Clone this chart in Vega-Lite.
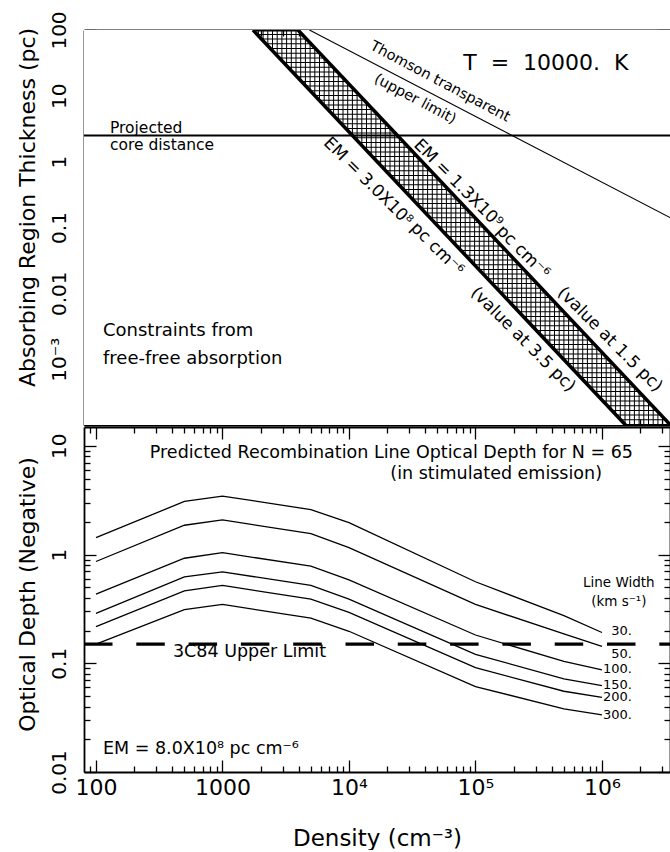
{
  "$schema": "https://vega.github.io/schema/vega-lite/v6.json",
  "background": "white",
  "padding": {"left": 15, "top": 10, "right": 0, "bottom": 0},
  "spacing": 0,
  "config": {
    "font": "DejaVu Sans",
    "view": {"stroke": null},
    "axis": {
      "domainColor": "black", "domainWidth": 1.8, "tickColor": "black", "tickWidth": 1.3,
      "labelColor": "black", "titleColor": "black", "labelFont": "DejaVu Sans", "titleFont": "DejaVu Sans",
      "titleFontWeight": "normal", "grid": false, "zindex": 1, "labelOverlap": false, "labelFlush": false
    },
    "text": {"font": "DejaVu Sans", "color": "black"}
  },
  "datasets": {
    "band": [
      {"edge": "lo", "n": 1742, "L": 100}, {"edge": "lo", "n": 1535000, "L": 0.0001},
      {"edge": "hi", "n": 3954, "L": 100}, {"edge": "hi", "n": 3480000, "L": 0.0001}
    ],
    "mask": [
      {"m": "lo", "n": 80.4, "L": 100, "L2": 0.0001}, {"m": "lo", "n": 1742, "L": 100, "L2": 0.0001}, {"m": "lo", "n": 1535000, "L": 0.0001, "L2": 0.0001},
      {"m": "hi", "n": 3954, "L": 100, "L2": 100}, {"m": "hi", "n": 3450000, "L": 0.0001018, "L2": 100}
    ],
    "thomson": [{"n": 4870, "L": 100}, {"n": 3450000, "L": 0.1412}],
    "topText": [
      {"g": "T", "txt": "T\u00a0\u00a0=\u00a0\u00a010000.\u00a0\u00a0K", "n": 360000, "L": 31.3},
      {"g": "proj", "txt": "Projected", "n": 129, "L": 3.3},
      {"g": "proj", "txt": "core distance", "n": 129, "L": 1.817},
      {"g": "con", "txt": "Constraints from", "n": 113.6, "L": 0.00272},
      {"g": "con", "txt": "free-free absorption", "n": 113.6, "L": 0.00102},
      {"g": "thom", "txt": "Thomson transparent", "n": 52400, "L": 16.3},
      {"g": "thom", "txt": "(upper limit)", "n": 33300, "L": 8.85},
      {"g": "em", "txt": "EM = 1.3X10⁹", "n": 72800, "L": 0.461},
      {"g": "em", "txt": "pc cm⁻⁶", "n": 237500, "L": 0.0423},
      {"g": "em", "txt": "(value at 1.5 pc)", "n": 1156000, "L": 0.00199},
      {"g": "em", "txt": "EM = 3.0X10⁸", "n": 14130, "L": 0.495},
      {"g": "em", "txt": "pc cm⁻⁶", "n": 49700, "L": 0.047},
      {"g": "em", "txt": "(value at 3.5 pc)", "n": 237500, "L": 0.00199}
    ],
    "tau": [
      {"w": "30", "n": 100, "tau": 1.43}, {"w": "30", "n": 500, "tau": 3.08}, {"w": "30", "n": 1000, "tau": 3.45}, {"w": "30", "n": 5000, "tau": 2.59},
      {"w": "30", "n": 10000, "tau": 1.97}, {"w": "30", "n": 100000, "tau": 0.562}, {"w": "30", "n": 500000, "tau": 0.274}, {"w": "30", "n": 1000000, "tau": 0.192},
      {"w": "50", "n": 100, "tau": 0.863}, {"w": "50", "n": 500, "tau": 1.86}, {"w": "50", "n": 1000, "tau": 2.08}, {"w": "50", "n": 5000, "tau": 1.56},
      {"w": "50", "n": 10000, "tau": 1.16}, {"w": "50", "n": 100000, "tau": 0.348}, {"w": "50", "n": 500000, "tau": 0.186}, {"w": "50", "n": 1000000, "tau": 0.143},
      {"w": "100", "n": 100, "tau": 0.432}, {"w": "100", "n": 500, "tau": 0.925}, {"w": "100", "n": 1000, "tau": 1.04}, {"w": "100", "n": 5000, "tau": 0.781},
      {"w": "100", "n": 10000, "tau": 0.586}, {"w": "100", "n": 100000, "tau": 0.182}, {"w": "100", "n": 500000, "tau": 0.104}, {"w": "100", "n": 1000000, "tau": 0.0868},
      {"w": "150", "n": 100, "tau": 0.288}, {"w": "150", "n": 500, "tau": 0.624}, {"w": "150", "n": 1000, "tau": 0.694}, {"w": "150", "n": 5000, "tau": 0.52},
      {"w": "150", "n": 10000, "tau": 0.389}, {"w": "150", "n": 100000, "tau": 0.121}, {"w": "150", "n": 500000, "tau": 0.0718}, {"w": "150", "n": 1000000, "tau": 0.0624},
      {"w": "200", "n": 100, "tau": 0.217}, {"w": "200", "n": 500, "tau": 0.464}, {"w": "200", "n": 1000, "tau": 0.52}, {"w": "200", "n": 5000, "tau": 0.389},
      {"w": "200", "n": 10000, "tau": 0.294}, {"w": "200", "n": 100000, "tau": 0.0912}, {"w": "200", "n": 500000, "tau": 0.0553}, {"w": "200", "n": 1000000, "tau": 0.0485},
      {"w": "300", "n": 100, "tau": 0.15}, {"w": "300", "n": 500, "tau": 0.311}, {"w": "300", "n": 1000, "tau": 0.348}, {"w": "300", "n": 5000, "tau": 0.26},
      {"w": "300", "n": 10000, "tau": 0.197}, {"w": "300", "n": 100000, "tau": 0.0611}, {"w": "300", "n": 500000, "tau": 0.0381}, {"w": "300", "n": 1000000, "tau": 0.0336}
    ],
    "botText": [
      {"g": "title", "txt": "Predicted Recombination Line Optical Depth for N = 65", "n": 1758000, "tau": 8.63},
      {"g": "title", "txt": "(in stimulated emission)", "n": 1000000, "tau": 5.53},
      {"g": "left", "txt": "3C84 Upper Limit", "n": 406, "tau": 0.126},
      {"g": "left", "txt": "EM = 8.0X10⁸ pc cm⁻⁶", "n": 113.6, "tau": 0.01626},
      {"g": "lw", "txt": "Line Width", "n": 1360000, "tau": 0.542},
      {"g": "lw", "txt": "(km s⁻¹)", "n": 1360000, "tau": 0.363},
      {"g": "num", "txt": "30.", "n": 1726000, "tau": 0.197},
      {"g": "num", "txt": "50.", "n": 1726000, "tau": 0.121},
      {"g": "num", "txt": "100.", "n": 1726000, "tau": 0.0881},
      {"g": "num", "txt": "150.", "n": 1726000, "tau": 0.0629},
      {"g": "num", "txt": "200.", "n": 1726000, "tau": 0.0488},
      {"g": "num", "txt": "300.", "n": 1726000, "tau": 0.0333}
    ]
  },
  "vconcat": [
    {
      "width": 586,
      "height": 395,
      "resolve": {"axis": {"x": "independent", "y": "independent"}},
      "layer": [
        {
          "data": {"values": [{}]},
          "mark": {"type": "rule", "color": "black", "strokeWidth": 418, "strokeDash": [1, 3.7], "clip": true},
          "encoding": {
            "x": {"datum": 76700, "type": "quantitative", "scale": {"type": "log", "domain": [80.4, 3450000], "nice": false}, "axis": null},
            "y": {"datum": 0.0001, "type": "quantitative", "scale": {"type": "log", "domain": [0.0001, 100], "nice": false}, "axis": null},
            "y2": {"datum": 100}
          }
        },
        {
          "data": {"values": [{}]},
          "mark": {"type": "rule", "color": "black", "strokeWidth": 395, "strokeDash": [1, 3.7], "clip": true},
          "encoding": {
            "x": {"datum": 80.4, "type": "quantitative", "scale": {"type": "log", "domain": [80.4, 3450000], "nice": false}, "axis": null},
            "x2": {"datum": 3450000},
            "y": {"datum": 0.1, "type": "quantitative", "scale": {"type": "log", "domain": [0.0001, 100], "nice": false}, "axis": null}
          }
        },
        {
          "data": {"name": "mask"},
          "mark": {"type": "area", "fill": "white", "clip": true},
          "encoding": {
            "x": {"field": "n", "type": "quantitative", "scale": {"type": "log", "domain": [80.4, 3450000], "nice": false}, "axis": null},
            "y": {"field": "L", "type": "quantitative", "scale": {"type": "log", "domain": [0.0001, 100], "nice": false}, "axis": null},
            "y2": {"field": "L2"},
            "detail": {"field": "m"}
          }
        },
        {
          "data": {"name": "band"},
          "mark": {"type": "line", "color": "black", "strokeWidth": 3.5, "clip": true},
          "encoding": {
            "x": {"field": "n", "type": "quantitative", "scale": {"type": "log", "domain": [80.4, 3450000], "nice": false},
              "axis": {"orient": "bottom", "values": [90,100,200,300,400,500,600,700,800,900,1000,2000,3000,4000,5000,6000,7000,8000,9000,10000,20000,30000,40000,50000,60000,70000,80000,90000,100000,200000,300000,400000,500000,600000,700000,800000,900000,1000000,2000000,3000000],
                "labels": false, "title": null,
                "tickSize": {"condition": {"test": "abs(log(datum.value)/LN10 - round(log(datum.value)/LN10)) < 0.001", "value": -12}, "value": -6}}},
            "y": {"field": "L", "type": "quantitative", "scale": {"type": "log", "domain": [0.0001, 100], "nice": false},
              "axis": {"orient": "left",
                "values": [0.0001,0.0002,0.0003,0.0004,0.0005,0.0006,0.0007,0.0008,0.0009,0.001,0.002,0.003,0.004,0.005,0.006,0.007,0.008,0.009,0.01,0.02,0.03,0.04,0.05,0.06,0.07,0.08,0.09,0.1,0.2,0.3,0.4,0.5,0.6,0.7,0.8,0.9,1,2,3,4,5,6,7,8,9,10,20,30,40,50,60,70,80,90,100],
                "labelExpr": "datum.value == 100 ? '100' : datum.value == 10 ? '10' : datum.value == 1 ? '1' : datum.value == 0.1 ? '0.1' : datum.value == 0.01 ? '0.01' : datum.value == 0.001 ? '10⁻³' : ''",
                "labelAngle": -90, "labelAlign": "center", "labelBaseline": "bottom", "labelFontSize": 20, "labelPadding": 27,
                "title": "Absorbing Region Thickness (pc)", "titleFontSize": 22, "titleAngle": -90, "titleX": -57, "titleY": 177,
                "titleAlign": "center", "titleBaseline": "middle",
                "tickSize": {"condition": {"test": "abs(log(datum.value)/LN10 - round(log(datum.value)/LN10)) < 0.001", "value": -12}, "value": -6}}},
            "detail": {"field": "edge"}
          }
        },
        {
          "data": {"name": "thomson"},
          "mark": {"type": "line", "color": "black", "strokeWidth": 1.1, "clip": true},
          "encoding": {
            "x": {"field": "n", "type": "quantitative", "scale": {"type": "log", "domain": [80.4, 3450000], "nice": false},
              "axis": {"orient": "top", "values": [90,100,200,300,400,500,600,700,800,900,1000,2000,3000,4000,5000,6000,7000,8000,9000,10000,20000,30000,40000,50000,60000,70000,80000,90000,100000,200000,300000,400000,500000,600000,700000,800000,900000,1000000,2000000,3000000],
                "labels": false, "title": null,
                "tickSize": {"condition": {"test": "abs(log(datum.value)/LN10 - round(log(datum.value)/LN10)) < 0.001", "value": -12}, "value": -6}}},
            "y": {"field": "L", "type": "quantitative", "scale": {"type": "log", "domain": [0.0001, 100], "nice": false},
              "axis": {"orient": "right",
                "values": [0.0001,0.0002,0.0003,0.0004,0.0005,0.0006,0.0007,0.0008,0.0009,0.001,0.002,0.003,0.004,0.005,0.006,0.007,0.008,0.009,0.01,0.02,0.03,0.04,0.05,0.06,0.07,0.08,0.09,0.1,0.2,0.3,0.4,0.5,0.6,0.7,0.8,0.9,1,2,3,4,5,6,7,8,9,10,20,30,40,50,60,70,80,90,100],
                "labels": false, "title": null,
                "tickSize": {"condition": {"test": "abs(log(datum.value)/LN10 - round(log(datum.value)/LN10)) < 0.001", "value": -12}, "value": -6}}}
          }
        },
        {
          "data": {"values": [{}]},
          "mark": {"type": "rule", "color": "black", "strokeWidth": 2},
          "encoding": {
            "y": {"datum": 2.5, "type": "quantitative", "scale": {"type": "log", "domain": [0.0001, 100], "nice": false}, "axis": null}
          }
        },
        {
          "data": {"name": "topText"},
          "transform": [{"filter": "datum.g == 'T'"}],
          "mark": {"type": "text", "fontSize": 22, "align": "center", "baseline": "middle"},
          "encoding": {
            "x": {"field": "n", "type": "quantitative", "scale": {"type": "log", "domain": [80.4, 3450000], "nice": false}, "axis": null},
            "y": {"field": "L", "type": "quantitative", "scale": {"type": "log", "domain": [0.0001, 100], "nice": false}, "axis": null},
            "text": {"field": "txt"}
          }
        },
        {
          "data": {"name": "topText"},
          "transform": [{"filter": "datum.g == 'proj'"}],
          "mark": {"type": "text", "fontSize": 15.5, "align": "left", "baseline": "middle"},
          "encoding": {
            "x": {"field": "n", "type": "quantitative", "scale": {"type": "log", "domain": [80.4, 3450000], "nice": false}, "axis": null},
            "y": {"field": "L", "type": "quantitative", "scale": {"type": "log", "domain": [0.0001, 100], "nice": false}, "axis": null},
            "text": {"field": "txt"}
          }
        },
        {
          "data": {"name": "topText"},
          "transform": [{"filter": "datum.g == 'con'"}],
          "mark": {"type": "text", "fontSize": 18, "align": "left", "baseline": "middle"},
          "encoding": {
            "x": {"field": "n", "type": "quantitative", "scale": {"type": "log", "domain": [80.4, 3450000], "nice": false}, "axis": null},
            "y": {"field": "L", "type": "quantitative", "scale": {"type": "log", "domain": [0.0001, 100], "nice": false}, "axis": null},
            "text": {"field": "txt"}
          }
        },
        {
          "data": {"name": "topText"},
          "transform": [{"filter": "datum.g == 'thom'"}],
          "mark": {"type": "text", "fontSize": 14.5, "align": "center", "baseline": "middle", "angle": 28},
          "encoding": {
            "x": {"field": "n", "type": "quantitative", "scale": {"type": "log", "domain": [80.4, 3450000], "nice": false}, "axis": null},
            "y": {"field": "L", "type": "quantitative", "scale": {"type": "log", "domain": [0.0001, 100], "nice": false}, "axis": null},
            "text": {"field": "txt"}
          }
        },
        {
          "data": {"name": "topText"},
          "transform": [{"filter": "datum.g == 'em'"}],
          "mark": {"type": "text", "fontSize": 17, "align": "center", "baseline": "middle", "angle": 45},
          "encoding": {
            "x": {"field": "n", "type": "quantitative", "scale": {"type": "log", "domain": [80.4, 3450000], "nice": false}, "axis": null},
            "y": {"field": "L", "type": "quantitative", "scale": {"type": "log", "domain": [0.0001, 100], "nice": false}, "axis": null},
            "text": {"field": "txt"}
          }
        }
      ]
    },
    {
      "width": 586,
      "height": 345,
      "resolve": {"axis": {"x": "independent", "y": "independent"}},
      "layer": [
        {
          "data": {"name": "tau"},
          "mark": {"type": "line", "color": "black", "strokeWidth": 1.3},
          "encoding": {
            "x": {"field": "n", "type": "quantitative", "scale": {"type": "log", "domain": [80.4, 3450000], "nice": false},
              "axis": {"orient": "bottom", "values": [90,100,200,300,400,500,600,700,800,900,1000,2000,3000,4000,5000,6000,7000,8000,9000,10000,20000,30000,40000,50000,60000,70000,80000,90000,100000,200000,300000,400000,500000,600000,700000,800000,900000,1000000,2000000,3000000],
                "labelExpr": "datum.value == 100 ? '100' : datum.value == 1000 ? '1000' : datum.value == 10000 ? '10⁴' : datum.value == 100000 ? '10⁵' : datum.value == 1000000 ? '10⁶' : ''",
                "labelFontSize": 22, "labelPadding": 17, "labelAngle": 0,
                "title": "Density (cm⁻³)", "titleFontSize": 23, "titleY": 66, "titleBaseline": "middle",
                "tickSize": {"condition": {"test": "abs(log(datum.value)/LN10 - round(log(datum.value)/LN10)) < 0.001", "value": -12}, "value": -6}}},
            "y": {"field": "tau", "type": "quantitative", "scale": {"type": "log", "domain": [0.01, 14.9], "nice": false},
              "axis": {"orient": "left",
                "values": [0.01,0.02,0.03,0.04,0.05,0.06,0.07,0.08,0.09,0.1,0.2,0.3,0.4,0.5,0.6,0.7,0.8,0.9,1,2,3,4,5,6,7,8,9,10],
                "labelExpr": "datum.value == 10 ? '10' : datum.value == 1 ? '1' : datum.value == 0.1 ? '0.1' : datum.value == 0.01 ? '0.01' : ''",
                "labelAngle": -90, "labelAlign": "center", "labelBaseline": "bottom", "labelFontSize": 20, "labelPadding": 27,
                "title": "Optical Depth (Negative)", "titleFontSize": 22, "titleAngle": -90, "titleX": -57, "titleY": 167,
                "titleAlign": "center", "titleBaseline": "middle",
                "tickSize": {"condition": {"test": "abs(log(datum.value)/LN10 - round(log(datum.value)/LN10)) < 0.001", "value": -12}, "value": -6}}},
            "detail": {"field": "w"}
          }
        },
        {
          "data": {"values": [{}]},
          "mark": {"type": "rule", "color": "black", "strokeWidth": 3.2, "strokeDash": [28.5, 23.8]},
          "encoding": {
            "x": {"datum": 80.4, "type": "quantitative", "scale": {"type": "log", "domain": [80.4, 3450000], "nice": false}, "axis": null},
            "x2": {"datum": 3450000},
            "y": {"datum": 0.15, "type": "quantitative", "scale": {"type": "log", "domain": [0.01, 14.9], "nice": false}, "axis": null}
          }
        },
        {
          "data": {"name": "botText"},
          "transform": [{"filter": "datum.g == 'num'"}],
          "mark": {"type": "text", "fontSize": 13, "align": "right", "baseline": "middle"},
          "encoding": {
            "x": {"field": "n", "type": "quantitative", "scale": {"type": "log", "domain": [80.4, 3450000], "nice": false},
              "axis": {"orient": "top", "values": [90,100,200,300,400,500,600,700,800,900,1000,2000,3000,4000,5000,6000,7000,8000,9000,10000,20000,30000,40000,50000,60000,70000,80000,90000,100000,200000,300000,400000,500000,600000,700000,800000,900000,1000000,2000000,3000000],
                "labels": false, "title": null,
                "tickSize": {"condition": {"test": "abs(log(datum.value)/LN10 - round(log(datum.value)/LN10)) < 0.001", "value": -12}, "value": -6}}},
            "y": {"field": "tau", "type": "quantitative", "scale": {"type": "log", "domain": [0.01, 14.9], "nice": false},
              "axis": {"orient": "right",
                "values": [0.01,0.02,0.03,0.04,0.05,0.06,0.07,0.08,0.09,0.1,0.2,0.3,0.4,0.5,0.6,0.7,0.8,0.9,1,2,3,4,5,6,7,8,9,10],
                "labels": false, "title": null,
                "tickSize": {"condition": {"test": "abs(log(datum.value)/LN10 - round(log(datum.value)/LN10)) < 0.001", "value": -12}, "value": -6}}},
            "text": {"field": "txt"}
          }
        },
        {
          "data": {"name": "botText"},
          "transform": [{"filter": "datum.g == 'title'"}],
          "mark": {"type": "text", "fontSize": 17.5, "align": "right", "baseline": "middle"},
          "encoding": {
            "x": {"field": "n", "type": "quantitative", "scale": {"type": "log", "domain": [80.4, 3450000], "nice": false}, "axis": null},
            "y": {"field": "tau", "type": "quantitative", "scale": {"type": "log", "domain": [0.01, 14.9], "nice": false}, "axis": null},
            "text": {"field": "txt"}
          }
        },
        {
          "data": {"name": "botText"},
          "transform": [{"filter": "datum.g == 'left'"}],
          "mark": {"type": "text", "fontSize": 17.5, "align": "left", "baseline": "middle"},
          "encoding": {
            "x": {"field": "n", "type": "quantitative", "scale": {"type": "log", "domain": [80.4, 3450000], "nice": false}, "axis": null},
            "y": {"field": "tau", "type": "quantitative", "scale": {"type": "log", "domain": [0.01, 14.9], "nice": false}, "axis": null},
            "text": {"field": "txt"}
          }
        },
        {
          "data": {"name": "botText"},
          "transform": [{"filter": "datum.g == 'lw'"}],
          "mark": {"type": "text", "fontSize": 13.5, "align": "center", "baseline": "middle"},
          "encoding": {
            "x": {"field": "n", "type": "quantitative", "scale": {"type": "log", "domain": [80.4, 3450000], "nice": false}, "axis": null},
            "y": {"field": "tau", "type": "quantitative", "scale": {"type": "log", "domain": [0.01, 14.9], "nice": false}, "axis": null},
            "text": {"field": "txt"}
          }
        }
      ]
    }
  ]
}
